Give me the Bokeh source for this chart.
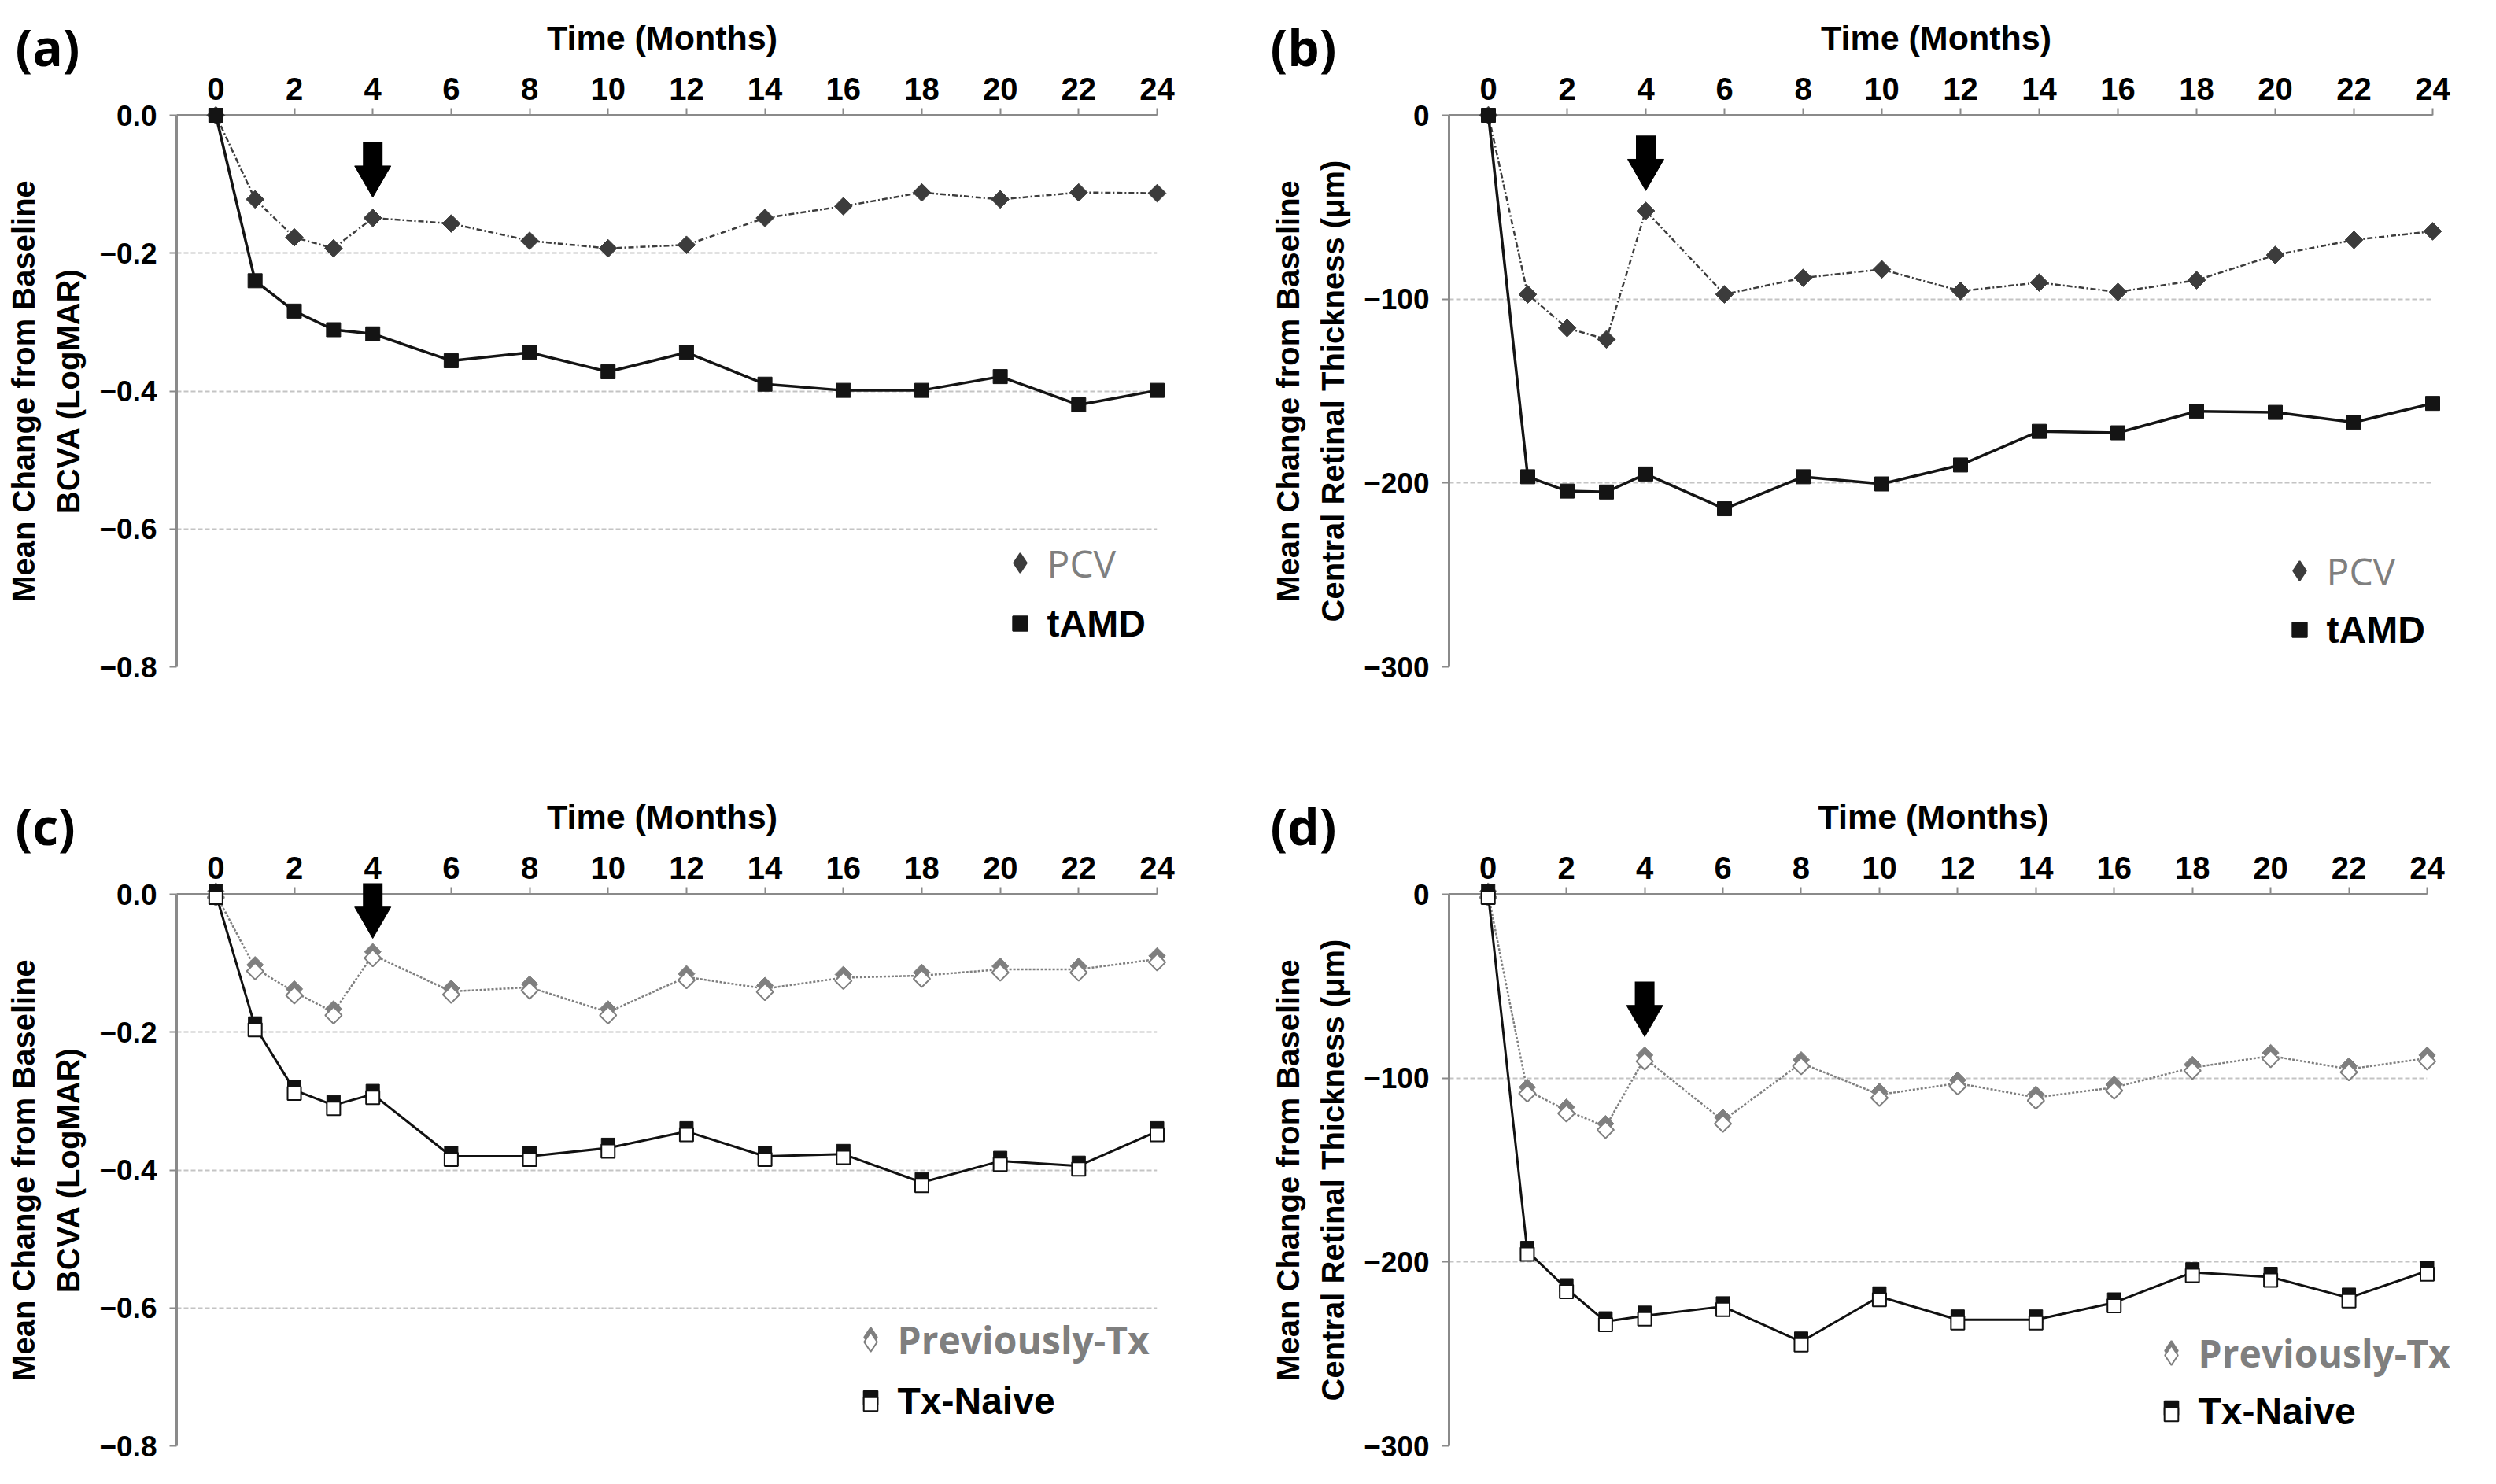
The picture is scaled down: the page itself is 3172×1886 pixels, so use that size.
import math
from bokeh.plotting import figure
from bokeh.models import (FixedTicker, CustomJSTickFormatter, Legend, LegendItem,
                          ColumnDataSource)
from bokeh.layouts import column, row
from bokeh.transform import dodge
from bokeh.core.properties import value
from bokeh.embed import file_html
from bokeh.resources import INLINE

# ---------------- data ----------------
months = [0, 1, 2, 3, 4, 6, 8, 10, 12, 14, 16, 18, 20, 22, 24]
x_ticks = [0, 2, 4, 6, 8, 10, 12, 14, 16, 18, 20, 22, 24]
bcva_ticks = [0.0, -0.2, -0.4, -0.6, -0.8]
crt_ticks = [0, -100, -200, -300]

# (a) BCVA, PCV vs tAMD
pcv_bcva = [0, -0.122, -0.177, -0.193, -0.149, -0.157, -0.182, -0.193, -0.188, -0.149, -0.132, -0.112, -0.122, -0.112, -0.113]
tamd_bcva = [0, -0.240, -0.284, -0.311, -0.317, -0.356, -0.344, -0.372, -0.344, -0.390, -0.399, -0.399, -0.379, -0.420, -0.399]
# (b) CRT, PCV vs tAMD
pcv_crt = [0, -97.4, -115.7, -121.9, -52.0, -97.4, -88.4, -83.8, -95.6, -91.0, -96.1, -89.7, -76.0, -67.8, -63.1]
tamd_crt = [0, -196.6, -204.4, -204.9, -195.1, -214.0, -196.6, -200.5, -190.2, -171.9, -172.7, -161.0, -161.6, -167.0, -156.7]
# (c) BCVA, Previously-Tx vs Tx-Naive
prev_bcva = [0, -0.107, -0.142, -0.171, -0.088, -0.141, -0.135, -0.171, -0.120, -0.137, -0.121, -0.118, -0.109, -0.109, -0.094]
naive_bcva = [0, -0.192, -0.284, -0.306, -0.290, -0.380, -0.380, -0.368, -0.344, -0.380, -0.377, -0.418, -0.387, -0.394, -0.344]
# (d) CRT, Previously-Tx vs Tx-Naive
prev_crt = [0, -106.7, -117.5, -126.5, -89.2, -123.1, -91.8, -109.0, -102.8, -110.5, -105.1, -94.3, -87.9, -95.1, -89.2]
naive_crt = [0, -194.1, -214.4, -232.4, -229.3, -224.2, -243.4, -218.8, -231.4, -231.4, -222.1, -205.7, -208.2, -219.5, -204.9]

panel_labels = ["(a)", "(b)", "(c)", "(d)"]
x_title = "Time  (Months)"
bcva_title = "Mean Change from Baseline\nBCVA (LogMAR)"
crt_title = "Mean Change from Baseline\nCentral Retinal Thickness (\u03bcm)"
series_names = ["PCV", "tAMD", "Previously-Tx", "Tx-Naive"]
arrow_month = 4
x_range = (-1, 24)
bcva_range = (-0.8, 0)
crt_range = (-300, 0)

# ---------------- styles ----------------
AX = "Liberation Sans"
GRAY_AX = "#8a8a8a"
PCV_C = "#3c3c3c"
TAMD_C = "#141414"
PREV_C = "#7f7f7f"
NAIVE_C = "#111111"
LEG_H = 66
FRAME_H = 701
NAN = float("nan")


def make_fig(w, h, yr, yticks, dec, ytitle, left, right, top, bottom):
    p = figure(width=w, height=h, x_range=x_range, y_range=yr, x_axis_location="above",
               output_backend="svg", toolbar_location=None, tools="",
               min_border_left=left, min_border_right=right, min_border_top=top,
               min_border_bottom=bottom, outline_line_color=None,
               background_fill_color="white", border_fill_color="white")
    xa = p.xaxis[0]
    xa.ticker = FixedTicker(ticks=x_ticks)
    xa.axis_label = x_title
    xa.axis_label_text_font = AX
    xa.axis_label_text_font_style = "bold"
    xa.axis_label_text_font_size = "43px"
    xa.axis_label_text_color = "black"
    xa.axis_label_standoff = 24
    xa.major_label_text_font = AX
    xa.major_label_text_font_style = "bold"
    xa.major_label_text_font_size = "40px"
    xa.major_label_text_color = "black"
    xa.major_label_standoff = 11
    xa.axis_line_color = GRAY_AX
    xa.axis_line_width = 3
    xa.major_tick_line_color = GRAY_AX
    xa.major_tick_line_width = 2
    xa.major_tick_out = 9
    xa.major_tick_in = 0
    xa.minor_tick_line_color = None

    ya = p.yaxis[0]
    ya.ticker = FixedTicker(ticks=yticks)
    ya.formatter = CustomJSTickFormatter(
        code="return (tick < -1e-9 ? '\\u2212' : '') + Math.abs(tick).toFixed(%d);" % dec)
    ya.axis_label = ytitle
    ya.axis_label_text_font = AX
    ya.axis_label_text_font_style = "bold"
    ya.axis_label_text_font_size = "40px"
    ya.axis_label_text_color = "black"
    ya.axis_label_text_line_height = 1.3
    ya.axis_label_standoff = 14
    ya.major_label_text_font = AX
    ya.major_label_text_font_style = "bold"
    ya.major_label_text_font_size = "37px"
    ya.major_label_text_color = "black"
    ya.major_label_standoff = 16
    ya.axis_line_color = GRAY_AX
    ya.axis_line_width = 3
    ya.major_tick_line_color = GRAY_AX
    ya.major_tick_line_width = 2
    ya.major_tick_out = 9
    ya.major_tick_in = 0
    ya.minor_tick_line_color = None

    p.xgrid.visible = False
    p.ygrid[0].ticker = FixedTicker(ticks=yticks)
    p.ygrid.grid_line_color = "#c4c4c4"
    p.ygrid.grid_line_width = 2
    p.ygrid.grid_line_dash = "6 3"
    return p


def corner_text(p, ax, ay, text, dx, dy, font, size, style, color, baseline):
    # text anchored to a corner of the plot frame, shifted by screen pixels
    p.text(x=[ax], y=[ay], text=[text], x_offset=dx, y_offset=dy,
           text_font=value(font), text_font_size=value(size), text_font_style=value(style),
           text_color=color, text_align=value("left"), text_baseline=value(baseline),
           level="overlay")


def add_panel_label(p, yr, text, dx):
    corner_text(p, x_range[0], yr[1], text, dx, -131, "Open Sans", "64px", "bold", "black", "top")


def add_arrow(p, yr, y_top, y_tip):
    # thick downward arrow: shaft segment + inverted triangle head (tip at y_tip)
    px = (yr[1] - yr[0]) / FRAME_H
    head = 46
    y_c = y_tip + head * math.sqrt(3) / 3 * px
    p.segment(x0=[arrow_month], y0=[y_top], x1=[arrow_month], y1=[y_c],
              line_color="black", line_width=25, level="overlay")
    p.scatter(x=[arrow_month], y=[y_c], marker="inverted_triangle", size=head,
              fill_color="black", line_color="black", line_width=1, level="overlay")


def swatch_renderer(p, marker, fill, line, lw=2):
    # renderer with a single NaN point: draws nothing in the plot, only the legend swatch
    return p.scatter(x=[NAN], y=[NAN], marker=marker, fill_color=fill, line_color=line,
                     line_width=lw, level="overlay")


def add_swatch(p, renderer, cx, cy, gw):
    lg = Legend(items=[LegendItem(label="", renderers=[renderer])],
                location=(cx - gw / 2, cy - LEG_H / 2),
                background_fill_alpha=0, border_line_color=None, padding=0, margin=0,
                spacing=0, glyph_width=gw, glyph_height=LEG_H, label_height=LEG_H,
                label_width=0, label_standoff=0, label_text_font_size="2px")
    p.add_layout(lg)


def add_entry(p, yr, text, tx, cy, font, style, color):
    corner_text(p, x_range[0], yr[0], text, tx, -cy, font, "48px", style, color, "middle")


def simple_panel(p, ya_vals, yb_vals):
    src = ColumnDataSource(dict(month=months, a=ya_vals, b=yb_vals))
    p.line("month", "a", source=src, line_color=PCV_C, line_width=2.5, line_dash="7 3 2 3",
           level="overlay")
    p.scatter("month", "a", source=src, marker="square", angle=math.pi / 4, size=16,
              fill_color=PCV_C, line_color=PCV_C, level="overlay")
    p.line("month", "b", source=src, line_color=TAMD_C, line_width=3.5, level="overlay")
    p.scatter("month", "b", source=src, marker="square", size=18,
              fill_color=TAMD_C, line_color=TAMD_C, level="overlay")
    return (swatch_renderer(p, "diamond", PCV_C, PCV_C),
            swatch_renderer(p, "square", TAMD_C, TAMD_C))


def double_panel(p, ya_vals, yb_vals, half):
    src = ColumnDataSource(dict(month=months, a=ya_vals, b=yb_vals))
    p.line("month", "a", source=src, line_color=PREV_C, line_width=2.5, line_dash="3 2",
           level="overlay")
    p.scatter(x="month", y=dodge("a", half), source=src, marker="square", angle=math.pi / 4,
              size=15, fill_color=PREV_C, line_color=PREV_C, level="overlay")
    p.scatter(x="month", y=dodge("a", -half), source=src, marker="square", angle=math.pi / 4,
              size=15, fill_color="white", line_color=PREV_C, line_width=2, level="overlay")
    p.line("month", "b", source=src, line_color=NAIVE_C, line_width=3, level="overlay")
    p.scatter(x="month", y=dodge("b", half), source=src, marker="square", size=17,
              fill_color=NAIVE_C, line_color=NAIVE_C, level="overlay")
    p.scatter(x="month", y=dodge("b", -half), source=src, marker="square", size=17,
              fill_color="white", line_color=NAIVE_C, line_width=2, level="overlay")
    return dict(af=swatch_renderer(p, "diamond", PREV_C, PREV_C),
                ao=swatch_renderer(p, "diamond", "white", PREV_C),
                bf=swatch_renderer(p, "square", NAIVE_C, NAIVE_C),
                bo=swatch_renderer(p, "square", "white", NAIVE_C))


def simple_legend(p, yr, sa, sb, tx, cy_a, cy_b):
    add_swatch(p, sa, tx - 34, cy_a, 62)
    add_entry(p, yr, series_names[0], tx, cy_a, "Open Sans", "normal", "#7f7f7f")
    add_swatch(p, sb, tx - 34, cy_b, 46)
    add_entry(p, yr, series_names[1], tx, cy_b, AX, "bold", "black")


def double_legend(p, yr, sw, tx, cy_a, cy_b):
    add_swatch(p, sw["af"], tx - 34, cy_a + 3, 62)
    add_swatch(p, sw["ao"], tx - 34, cy_a - 3, 62)
    add_entry(p, yr, series_names[2], tx, cy_a, "Open Sans", "bold", "#7f7f7f")
    add_swatch(p, sw["bf"], tx - 34, cy_b + 4, 44)
    add_swatch(p, sw["bo"], tx - 34, cy_b - 4, 44)
    add_entry(p, yr, series_names[3], tx, cy_b, AX, "bold", "black")


# ---------------- panel (a) ----------------
pa = make_fig(1609, 990, bcva_range, bcva_ticks, 1, bcva_title, 224, 139, 146, 143)
sa, sb = simple_panel(pa, pcv_bcva, tamd_bcva)
simple_legend(pa, bcva_range, sa, sb, 1106, 132, 55)
add_arrow(pa, bcva_range, -0.039, -0.119)
add_panel_label(pa, bcva_range, panel_labels[0], -205)

# ---------------- panel (b) ----------------
pb = make_fig(1547, 990, crt_range, crt_ticks, 0, crt_title, 232, 65, 146, 143)
sa, sb = simple_panel(pb, pcv_crt, tamd_crt)
simple_legend(pb, crt_range, sa, sb, 1115, 122, 47)
add_arrow(pb, crt_range, -11, -41)
add_panel_label(pb, crt_range, panel_labels[1], -227)

# ---------------- panel (c) ----------------
pc = make_fig(1609, 880, bcva_range, bcva_ticks, 1, bcva_title, 224, 139, 146, 33)
sw = double_panel(pc, prev_bcva, naive_bcva, 0.0046)
double_legend(pc, bcva_range, sw, 916, 135, 57)
add_arrow(pc, bcva_range, 0.016, -0.064)
add_panel_label(pc, bcva_range, panel_labels[2], -205)

# ---------------- panel (d) ----------------
pd_ = make_fig(1547, 880, crt_range, crt_ticks, 0, crt_title, 232, 72, 146, 33)
sw = double_panel(pd_, prev_crt, naive_crt, 1.7)
double_legend(pd_, crt_range, sw, 952, 118, 44)
add_arrow(pd_, crt_range, -47.5, -77.5)
add_panel_label(pd_, crt_range, panel_labels[3], -227)

layout = column(row(pa, pb), row(pc, pd_))

with open("out.html", "w", encoding="utf-8") as f:
    f.write(file_html(layout, INLINE))
